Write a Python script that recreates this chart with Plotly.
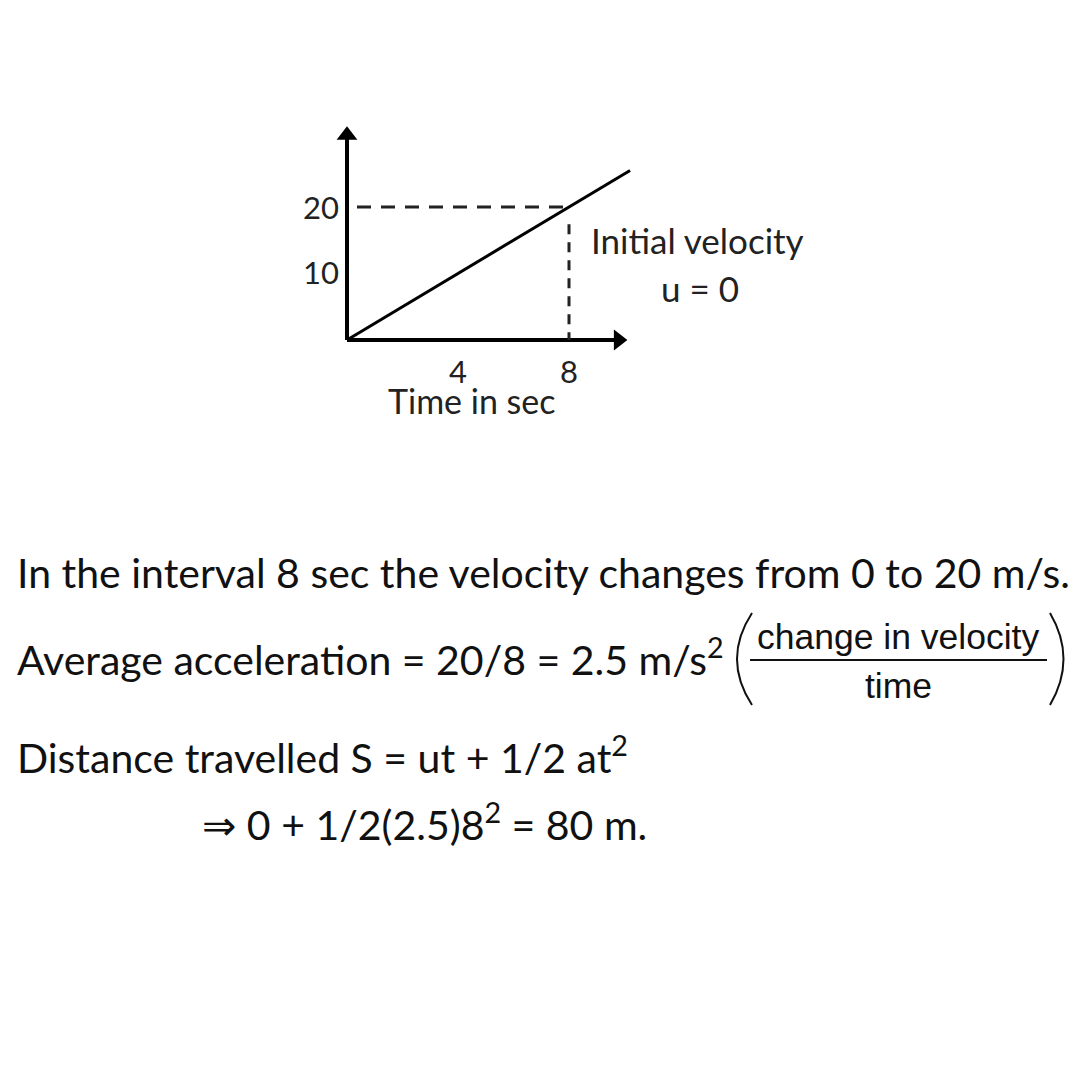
import plotly.graph_objects as go

# ---- data ----
line_t = [0, 10.2]          # time (s)
line_v = [0, 25.5]          # velocity (m/s), slope 2.5
point_t = 8
point_v = 20
y_axis_top = 32.3
x_axis_end = 10.13
h_dash_start = 0.36
v_dash_top = 17.4
x_ticks = [4, 8]
x_tick_labels = ["4", "8"]
y_ticks = [10, 20]
y_tick_labels = ["10", "20"]

FONT = "Lato"
W = H = 1080
OFF = 8  # page body margin

# axis mapping (data -> pixels)
px_per_x = 27.75
px_per_y = 6.65
x0_px, y0_px = 347 - OFF, 340 - OFF
xr = [-x0_px / px_per_x, -x0_px / px_per_x + W / px_per_x]
yr = [-(H - y0_px) / px_per_y, -(H - y0_px) / px_per_y + H / px_per_y]

fig = go.Figure()

# axes lines
fig.add_trace(go.Scatter(x=[0, 0], y=[0, y_axis_top - 1.5], mode="lines",
                         line=dict(color="black", width=4), hoverinfo="skip"))
fig.add_trace(go.Scatter(x=[0, x_axis_end - 0.4], y=[0, 0], mode="lines",
                         line=dict(color="black", width=4), hoverinfo="skip"))
# arrow heads
fig.add_trace(go.Scatter(x=[0], y=[y_axis_top - 1.5], mode="markers",
                         marker=dict(symbol="triangle-up", size=18, color="black"),
                         hoverinfo="skip"))
fig.add_trace(go.Scatter(x=[x_axis_end - 0.35], y=[0], mode="markers",
                         marker=dict(symbol="triangle-right", size=18, color="black"),
                         hoverinfo="skip"))

# dashed guides
fig.add_trace(go.Scatter(x=[h_dash_start, point_t], y=[point_v, point_v], mode="lines",
                         line=dict(color="#222", width=3, dash="14px,10px"), hoverinfo="skip"))
fig.add_trace(go.Scatter(x=[point_t, point_t], y=[v_dash_top, 0], mode="lines",
                         line=dict(color="#222", width=3, dash="10px,8px"), hoverinfo="skip"))

# velocity line
fig.add_trace(go.Scatter(x=line_t, y=line_v, mode="lines",
                         line=dict(color="black", width=3), hoverinfo="skip"))

LBL = dict(family=FONT, size=31, color="#222")
ann = []
for v, lab in zip(y_ticks, y_tick_labels):
    ann.append(dict(x=0, y=v, xref="x", yref="y", text=lab, showarrow=False,
                    xanchor="right", yanchor="middle", xshift=-7, yshift=2 if v == 10 else 0,
                    font=LBL, borderpad=0))
for t, lab in zip(x_ticks, x_tick_labels):
    ann.append(dict(x=t, y=0, xref="x", yref="y", text=lab, showarrow=False,
                    xanchor="center", yanchor="middle", yshift=-31,
                    font=LBL, borderpad=0))
ann.append(dict(x=4.5, y=0, xref="x", yref="y", text="Time in sec", showarrow=False,
                xanchor="center", yanchor="middle", yshift=-60,
                font=dict(family=FONT, size=34, color="#222"), borderpad=0))
ann.append(dict(x=point_t, y=point_v, xref="x", yref="y", text="Initial velocity",
                showarrow=False, xanchor="left", yanchor="middle", xshift=20, yshift=-33,
                font=dict(family=FONT, size=35, color="#222")))
ann.append(dict(x=point_t, y=point_v, xref="x", yref="y", text="u = 0",
                showarrow=False, xanchor="center", yanchor="middle", xshift=131, yshift=-81,
                font=dict(family=FONT, size=35, color="#222")))


def py(p):
    return 1 - (p - OFF) / H


def px(p):
    return (p - OFF) / W


TXT = dict(family=FONT, size=41, color="#111")
FR = dict(family="Liberation Sans", size=35.5, color="#111")
ann.append(dict(x=px(15), y=py(572), xref="paper", yref="paper", showarrow=False,
                xanchor="left", yanchor="middle",
                text="In the interval 8 sec the velocity changes from 0 to 20 m/s.", font=TXT))
ann.append(dict(x=px(15), y=py(657), xref="paper", yref="paper", showarrow=False,
                xanchor="left", yanchor="middle",
                text="Average acceleration = 20/8 = 2.5 m/s<sup>2</sup>", font=TXT))
ann.append(dict(x=px(898), y=py(637), xref="paper", yref="paper", showarrow=False,
                xanchor="center", yanchor="middle",
                text="change in velocity", font=FR))
ann.append(dict(x=px(898), y=py(686), xref="paper", yref="paper", showarrow=False,
                xanchor="center", yanchor="middle",
                text="time", font=FR))
ann.append(dict(x=px(15), y=py(755), xref="paper", yref="paper", showarrow=False,
                xanchor="left", yanchor="middle",
                text="Distance travelled S = ut + 1/2 at<sup>2</sup>", font=TXT))
ann.append(dict(x=px(200), y=py(822), xref="paper", yref="paper", showarrow=False,
                xanchor="left", yanchor="middle",
                text="<span style=\"font-family:DejaVu Sans\">⇒</span> 0 + 1/2(2.5)8<sup>2</sup> = 80 m.",
                font=TXT))

shapes = [
    dict(type="line", xref="paper", yref="paper", x0=px(750), x1=px(1047),
         y0=py(660), y1=py(660), line=dict(color="#111", width=2)),
    dict(type="path", xref="paper", yref="paper",
         path=f"M {px(752)} {py(613)} Q {px(722)} {py(659)} {px(752)} {py(705)}",
         line=dict(color="#111", width=2)),
    dict(type="path", xref="paper", yref="paper",
         path=f"M {px(1050)} {py(613)} Q {px(1077)} {py(659)} {px(1050)} {py(705)}",
         line=dict(color="#111", width=2)),
]

fig.update_layout(
    width=W, height=H, margin=dict(l=0, r=0, t=0, b=0),
    paper_bgcolor="white", plot_bgcolor="white", showlegend=False,
    xaxis=dict(range=xr, visible=False, fixedrange=True),
    yaxis=dict(range=yr, visible=False, fixedrange=True),
    annotations=ann, shapes=shapes,
)

fig.write_html("out.html")
